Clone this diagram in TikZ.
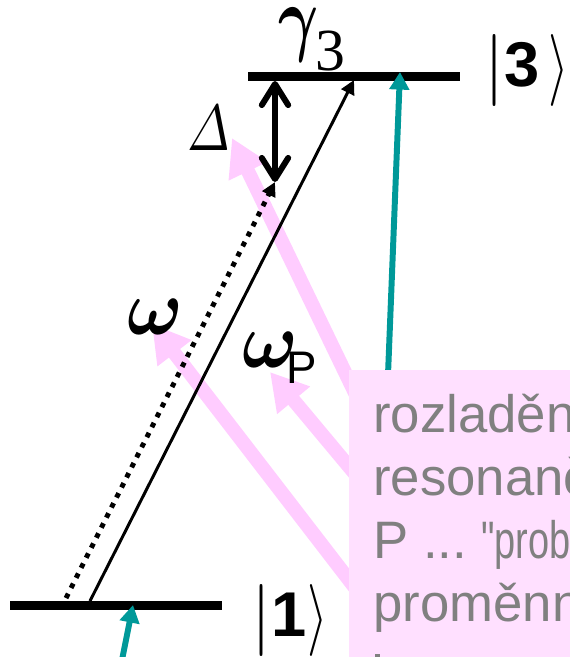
\documentclass[tikz,border=0pt]{standalone}
\usepackage{fontspec}
\setmainfont{Liberation Sans}
\newfontfamily\plainfont{Liberation Sans}
\newfontfamily\serifdigit{Liberation Serif}
\usetikzlibrary{arrows.meta}
\DeclareMathSymbol{\italicDelta}{\mathord}{letters}{"01}
\definecolor{pinkbox}{HTML}{FFE0FF}
\definecolor{pinkarrow}{HTML}{FFCCFF}
\definecolor{tealarrow}{HTML}{009999}
\definecolor{greytext}{HTML}{808080}
\newcommand{\ketlabel}[2]{\raisebox{-1.4pt}{\normalsize\scalebox{4.1}{$|$}}#1\hspace{#2}\raisebox{-1.4pt}{\normalsize\scalebox{3}[4.1]{$\rangle$}}}
\tikzset{
  level/.style={line width=5.1pt},
  pinkline/.style={pinkarrow, line width=8pt, -{Triangle[length=21pt,width=23pt]}},
  tealline/.style={tealarrow, line width=3.4pt, -{Triangle[length=10pt,width=11pt]}},
  greyline/.style={font=\fontsize{30}{34}\selectfont, text=greytext, anchor=base west, inner sep=0pt},
  symbol/.style={inner sep=0pt},
  ket/.style={font=\fontsize{36}{40}\selectfont\bfseries, anchor=base west, inner sep=0pt}
}
\begin{document}
\begin{tikzpicture}[x=0.02cm,y=-0.02cm]
  \useasboundingbox (0,0) rectangle (570,657);
  % end points
  \coordinate (lowa) at (10,605.5);
  \coordinate (lowb) at (222,605.5);
  \coordinate (upa) at (248,76.5);
  \coordinate (upb) at (460,76.5);
  \coordinate (gapa) at (275,81);
  \coordinate (gapb) at (275,182);
  \coordinate (dota) at (66,598);
  \coordinate (thina) at (90,601);
  \coordinate (thinb) at (354,80);
  \coordinate (tealastart) at (387,400);
  \coordinate (tealatip) at (400,72);
  \coordinate (tealbstart) at (122,660);
  \coordinate (tealbtip) at (133,605);
  \coordinate (pinkadelta) at (232,138);
  \coordinate (pinkastart) at (356,395);
  \coordinate (pinkbom) at (270,372);
  \coordinate (pinkbstart) at (356,475);
  \coordinate (pinkcom) at (152,324);
  \coordinate (pinkcstart) at (356,589);
  % pink arrows
  \draw[pinkline] (pinkastart) -- (pinkadelta);
  \draw[pinkline] (pinkbstart) -- (pinkbom);
  \draw[pinkline] (pinkcstart) -- (pinkcom);
  % levels
  \draw[level] (lowa) -- (lowb);
  \draw[level] (upa) -- (upb);
  \draw[tealline] (tealastart) -- (tealatip);
  \draw[tealline] (tealbstart) -- (tealbtip);
  % transitions
  \draw[line width=1.7pt, -{Triangle[length=8pt,width=8pt]}] (thina) -- (thinb);
  \draw[line width=2.8pt, dash pattern=on 2.8pt off 3.6pt, -{Triangle[length=8pt,width=8pt]}] (dota) -- (gapb);
  \draw[line width=3.4pt, {Straight Barb[round,length=12pt,width=15pt]}-{Straight Barb[round,length=12pt,width=15pt]}] (gapa) -- (gapb);
  % labels
  \node[symbol] (gammalabel) at (299,35) {\scalebox{3.5}[4.8]{\boldmath$\gamma$}};
  \node[symbol, font=\fontsize{34}{40}\selectfont\serifdigit] (threelabel) at (330,51) {3};
  \node[symbol] (deltalabel) at (209,128) {\scalebox{2.9}[3.7]{$\italicDelta$}};
  \node[symbol] (omegalabel) at (155,316.5) {\scalebox{4.2}[4.5]{\boldmath$\omega$}};
  \node[symbol] (omegaplabel) at (270,350) {\scalebox{4.2}[4.5]{\boldmath$\omega$}};
  \node[symbol, font=\fontsize{26}{30}\selectfont] (plabel) at (302,368) {P};
  \node[ket] (ketthree) at (484,86) {\ketlabel{3}{5pt}};
  \node[ket] (ketone) at (251,636) {\ketlabel{1}{0.5pt}};
  % text box
  \fill[pinkbox] (349,370) rectangle (570,657);
  \node[greyline] (linea) at (373,432) {rozladěn};
  \node[greyline] (lineb) at (373,495) {resonanč};
  \node[greyline] (linec) at (373,558) {P ...\hspace{-3pt} \scalebox{0.72}[1]{\plainfont"prob}};
  \node[greyline] (lined) at (373,621) {proměnn};
  \fill[greytext] (375,654) rectangle (380,657);
\end{tikzpicture}
\end{document}
